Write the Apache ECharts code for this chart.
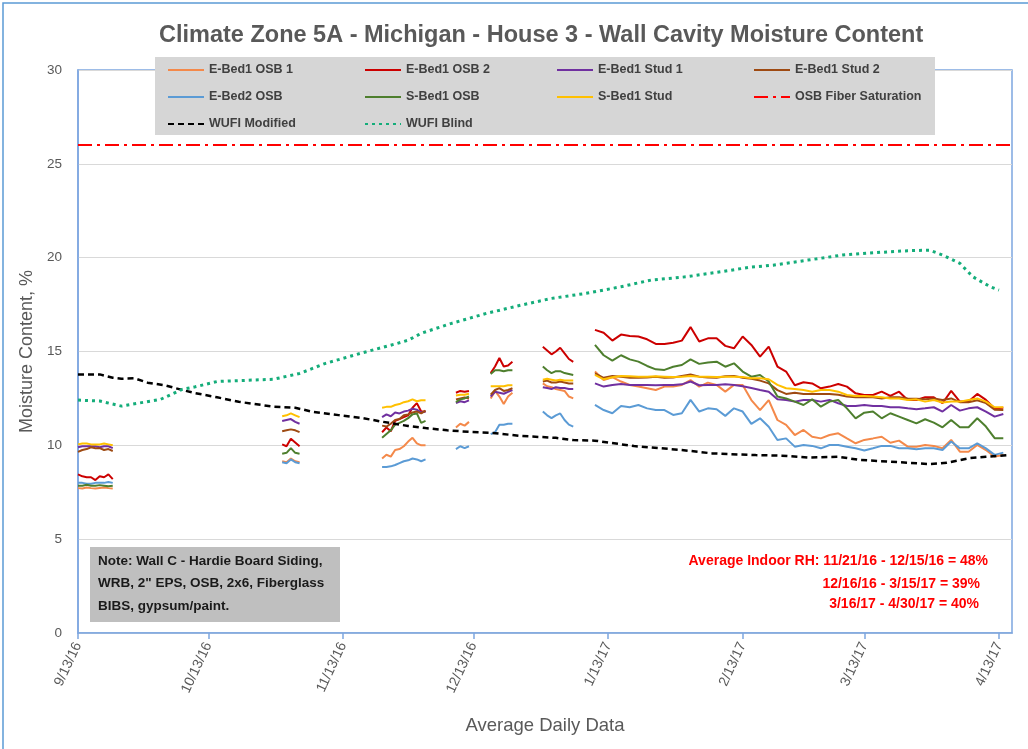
<!DOCTYPE html>
<html>
<head>
<meta charset="utf-8">
<title>Climate Zone 5A - Michigan - House 3 - Wall Cavity Moisture Content</title>
<script src="https://cdn.jsdelivr.net/npm/echarts@6.0.0/dist/echarts.min.js"></script>
<style>
  html, body { margin: 0; padding: 0; background: #fff; }
  #chart { width: 1028px; height: 749px; }
</style>
</head>
<body>
<div id="chart"></div>
<script>
// x = days since 9/13/16
var tickDays = [0, 30, 61, 91, 122, 153, 181, 212];
var tickLabels = ['9/13/16', '10/13/16', '11/13/16', '12/13/16', '1/13/17', '2/13/17', '3/13/17', '4/13/17'];

// sensor data came in blocks: block i starts at segStart[i], one reading every segStep[i] days
var segStart = [0, 47, 70, 87, 95, 107, 119];
var segStep = [1, 1, 1, 1, 1, 1, 2];

var eBed1Osb1 = [
  [7.72, 7.7, 7.75, 7.72, 7.7, 7.73, 7.75, 7.72, 7.7],
  [9.15, 9.1, 9.3, 9.15, 9.1],
  [9.3, 9.5, 9.4, 9.75, 9.8, 9.95, 10.2, 10.4, 10.1, 10.0, 10.0],
  [10.95, 11.15, 11.05, 11.25],
  [12.5, 12.9, 12.6, 12.2, 12.6, 12.8],
  [13.3, 13.15, 13.1, 13.0, 12.95, 12.9, 12.6, 12.5],
  [13.93, 13.48, 13.63, 13.4, 13.22, 13.13, 13.04, 12.95, 13.13, 13.13, 13.22, 13.48, 13.13, 13.34, 13.22, 12.86, 13.22, 13.22, 12.41, 11.88, 12.41, 11.35, 11.09,
   10.55, 10.82, 10.46, 10.37, 10.55, 10.64, 10.37, 10.11, 10.29, 10.37, 10.46, 10.14, 10.25, 9.93, 9.93, 10.02, 9.97, 9.84, 10.29, 9.66, 9.66, 10.02, 9.75, 9.4, 9.49]
];
var eBed1Osb2 = [
  [8.45, 8.35, 8.3, 8.3, 8.15, 8.35, 8.3, 8.45, 8.2],
  [10.05, 9.95, 10.35, 10.15, 9.95],
  [10.7, 10.95, 10.75, 11.3, 11.4, 11.5, 11.6, 12.0, 12.25, 11.8, 11.8],
  [12.8, 12.9, 12.85, 12.9],
  [13.85, 14.2, 14.65, 14.2, 14.25, 14.45],
  [15.25, 15.05, 14.85, 15.0, 15.2, 14.9, 14.6, 14.45],
  [16.15, 16.0, 15.58, 15.9, 15.83, 15.8, 15.65, 15.4, 15.4, 15.47, 15.58, 16.3, 15.53, 15.7, 15.7, 15.3, 15.17, 15.8, 15.35, 14.73, 15.26, 14.2, 13.93,
   13.2, 13.36, 13.3, 13.04, 13.13, 13.27, 13.13, 12.77, 12.68, 12.68, 12.86, 12.63, 12.86, 12.42, 12.42, 12.56, 12.56, 12.24, 12.9, 12.33, 12.33, 12.74, 12.42, 11.97, 12.0]
];
var eBed1Stud1 = [
  [9.9, 9.95, 9.95, 9.95, 9.95, 9.9, 9.95, 9.95, 9.85],
  [11.3, 11.35, 11.4, 11.25, 11.15],
  [11.5, 11.65, 11.55, 11.75, 11.7, 11.8, 11.85, 11.95, 11.9, 11.75, 11.8],
  [12.25, 12.35, 12.3, 12.4],
  [12.6, 12.85, 12.8, 12.75, 12.85, 12.95],
  [13.1, 13.05, 13.0, 13.1, 13.05, 13.05, 13.0, 13.0],
  [13.3, 13.13, 13.22, 13.27, 13.22, 13.22, 13.22, 13.2, 13.22, 13.22, 13.25, 13.4, 13.2, 13.22, 13.22, 13.25, 13.22, 13.15, 13.05, 12.95, 12.86, 12.45, 12.42,
   12.33, 12.42, 12.42, 12.33, 12.42, 12.24, 12.1, 12.1, 12.15, 12.1, 12.1, 12.03, 12.03, 11.97, 11.92, 11.97, 12.03, 11.8, 12.15, 11.85, 11.97, 12.03, 11.8, 11.53, 11.67]
];
var eBed1Stud2 = [
  [9.65, 9.75, 9.8, 9.9, 9.85, 9.85, 9.75, 9.8, 9.7],
  [10.75, 10.8, 10.85, 10.8, 10.7],
  [11.05, 11.0, 11.15, 11.35, 11.4, 11.6, 11.65, 11.75, 11.8, 11.7, 11.85],
  [12.45, 12.5, 12.55, 12.5],
  [12.7, 12.95, 13.05, 12.9, 12.95, 13.05],
  [13.4, 13.45, 13.35, 13.35, 13.4, 13.35, 13.3, 13.3],
  [13.84, 13.6, 13.7, 13.65, 13.6, 13.6, 13.62, 13.66, 13.6, 13.62, 13.7, 13.78, 13.66, 13.62, 13.6, 13.68, 13.7, 13.6, 13.55, 13.45, 13.3, 12.94, 12.74,
   12.8, 12.74, 12.74, 12.74, 12.74, 12.7, 12.6, 12.56, 12.56, 12.56, 12.5, 12.56, 12.56, 12.5, 12.48, 12.45, 12.5, 12.42, 12.5, 12.3, 12.3, 12.4, 12.25, 11.9, 11.88]
];
var eBed2Osb = [
  [8.0, 8.0, 7.95, 7.95, 8.0, 8.0, 8.0, 8.05, 8.0],
  [9.1, 9.05, 9.25, 9.1, 9.05],
  [8.85, 8.85, 8.88, 8.95, 9.05, 9.15, 9.2, 9.3, 9.25, 9.15, 9.25],
  [9.8, 9.95, 9.85, 9.95],
  [10.6, 10.7, 11.1, 11.1, 11.15, 11.15],
  [11.8, 11.6, 11.45, 11.6, 11.7, 11.35, 11.1, 11.0],
  [12.15, 11.88, 11.71, 12.1, 12.03, 12.15, 11.97, 11.88, 11.88, 11.62, 11.71, 12.42, 11.8, 11.97, 11.92, 11.57, 11.97, 11.8, 11.14, 11.44, 10.99, 10.28, 10.37,
   9.93, 10.02, 9.97, 9.84, 10.02, 10.02, 9.93, 9.84, 9.72, 9.84, 9.97, 9.97, 9.84, 9.84, 9.79, 9.84, 9.84, 9.75, 10.2, 9.84, 9.84, 10.11, 9.84, 9.49, 9.61]
];
var sBed1Osb = [
  [7.85, 7.85, 7.9, 7.85, 7.85, 7.88, 7.85, 7.82, 7.85],
  [9.55, 9.6, 9.85, 9.6, 9.55],
  [10.4, 10.6, 10.8, 11.1, 11.2, 11.3, 11.45, 11.65, 11.7, 11.2, 11.3],
  [12.3, 12.45, 12.5, 12.6],
  [13.8, 14.0, 14.0, 13.95, 14.0, 14.0],
  [14.2, 14.0, 13.85, 13.95, 13.95, 13.85, 13.8, 13.75],
  [15.35, 14.8, 14.51, 14.8, 14.58, 14.46, 14.23, 14.05, 14.02, 14.19, 14.28, 14.58, 14.34, 14.41, 14.46, 14.19, 14.37, 13.93, 13.66, 13.75, 13.4, 12.6, 12.5,
   12.33, 12.15, 12.45, 12.06, 12.33, 12.42, 11.97, 11.44, 11.74, 11.8, 11.44, 11.71, 11.53, 11.35, 11.17, 11.39, 11.21, 10.96, 11.35, 10.96, 10.96, 11.44, 11.0, 10.38, 10.38]
];
var sBed1Stud = [
  [10.05, 10.1, 10.1, 10.05, 10.05, 10.05, 10.1, 10.05, 10.0],
  [11.55, 11.6, 11.7, 11.6, 11.5],
  [12.0, 12.05, 12.05, 12.15, 12.2, 12.3, 12.35, 12.45, 12.35, 12.4, 12.4],
  [12.65, 12.7, 12.7, 12.75],
  [13.15, 13.15, 13.15, 13.15, 13.2, 13.2],
  [13.5, 13.55, 13.5, 13.45, 13.5, 13.45, 13.45, 13.45],
  [13.75, 13.52, 13.63, 13.7, 13.68, 13.66, 13.66, 13.68, 13.66, 13.64, 13.66, 13.7, 13.66, 13.66, 13.64, 13.66, 13.66, 13.64, 13.57, 13.57, 13.52, 13.22, 13.04,
   13.0, 12.95, 12.86, 12.95, 12.95, 12.86, 12.68, 12.63, 12.63, 12.6, 12.56, 12.5, 12.5, 12.42, 12.45, 12.33, 12.42, 12.28, 12.33, 12.33, 12.42, 12.5, 12.33, 12.03, 12.03]
];

var fiberSat = 26;
var fiberDays = [0, 215];

var wufiModDays = [0, 5, 8, 10, 13, 16, 20, 24, 27, 32, 37, 45, 50, 54, 60, 65, 70, 76, 80, 85, 90, 95, 102, 110, 114, 119, 128, 139, 146, 156, 162, 168, 175, 180, 187, 196, 200, 205, 209, 214];
var wufiModVals = [13.78, 13.78, 13.6, 13.55, 13.57, 13.34, 13.2, 12.95, 12.78, 12.56, 12.32, 12.06, 12.0, 11.79, 11.61, 11.47, 11.26, 11.03, 10.92, 10.8, 10.72, 10.67, 10.5, 10.4, 10.28, 10.25, 9.96, 9.75, 9.57, 9.48, 9.45, 9.35, 9.39, 9.22, 9.13, 9.0, 9.07, 9.31, 9.39, 9.48];

var wufiBlindDays = [0, 5, 10, 14, 19, 24, 27, 32, 36, 45, 51, 57, 65, 73, 76, 79, 86, 94, 102, 109, 117, 125, 132, 140, 148, 155, 160, 168, 176, 183, 191, 196, 199, 203, 206, 210, 212];
var wufiBlindVals = [12.41, 12.36, 12.09, 12.25, 12.45, 12.98, 13.12, 13.4, 13.44, 13.52, 13.83, 14.37, 14.9, 15.4, 15.6, 15.97, 16.5, 17.03, 17.47, 17.83, 18.1, 18.45, 18.81, 18.98, 19.25, 19.5, 19.6, 19.87, 20.14, 20.26, 20.37, 20.4, 20.14, 19.7, 18.98, 18.45, 18.27];

function segData(segs) {
  var out = [];
  for (var i = 0; i < segs.length; i++) {
    var day = segStart[i];
    for (var j = 0; j < segs[i].length; j++) {
      day = segStart[i] + j * segStep[i];
      out.push([day, segs[i][j]]);
    }
    out.push([day + 0.5, '-']); // break between blocks
  }
  return out;
}
function pairs(xs, ys) {
  var out = [];
  for (var i = 0; i < xs.length; i++) out.push([xs[i], ys[i]]);
  return out;
}

var FONT = 'Liberation Sans, Arial, sans-serif';

function sensor(name, color, segs) {
  return {
    name: name, type: 'line', data: segData(segs),
    symbol: 'none', showSymbol: false,
    lineStyle: { color: color, width: 2 },
    itemStyle: { color: color }
  };
}

var chart = echarts.init(document.getElementById('chart'));
var option = {
  animation: false,
  backgroundColor: '#fff',
  textStyle: { fontFamily: FONT },
  title: {
    text: 'Climate Zone 5A - Michigan - House 3 - Wall Cavity Moisture Content',
    left: 154, top: 19,
    textStyle: { fontSize: 23.5, fontWeight: 'bold', color: '#595959', fontFamily: FONT }
  },
  grid: {
    left: 78, right: 16, top: 70, bottom: 116,
    show: true, borderColor: '#7ea6e0', borderWidth: 1.5, backgroundColor: 'transparent'
  },
  legend: [
    { data: ['E-Bed1 OSB 1', 'E-Bed2 OSB', 'WUFI Modified'], left: 167 },
    { data: ['E-Bed1 OSB 2', 'S-Bed1 OSB', 'WUFI Blind'], left: 364 },
    { data: ['E-Bed1 Stud 1', 'S-Bed1 Stud'], left: 556 },
    { data: ['E-Bed1 Stud 2', 'OSB Fiber Saturation'], left: 753 }
  ].map(function (l) {
    l.top = 63; l.orient = 'vertical'; l.padding = 0;
    l.itemWidth = 36; l.itemHeight = 14; l.itemGap = 13;
    l.itemStyle = { opacity: 0 };
    l.textStyle = { fontSize: 12.5, fontWeight: 'bold', color: '#404040', fontFamily: FONT, lineHeight: 14 };
    l.z = 10;
    return l;
  }),
  xAxis: {
    type: 'value', min: 0, max: 215,
    name: 'Average Daily Data', nameLocation: 'middle', nameGap: 83,
    nameTextStyle: { fontSize: 18.5, color: '#595959', fontFamily: FONT },
    axisLine: { show: true, lineStyle: { color: '#7ea6e0', width: 1.5 } },
    axisTick: { show: true, customValues: tickDays, length: 6, lineStyle: { color: '#7ea6e0', width: 1.5 } },
    axisLabel: {
      customValues: tickDays, rotate: 65, margin: 10,
      fontSize: 14, color: '#595959', fontFamily: FONT,
      formatter: function (v) { var k = tickDays.indexOf(Math.round(v)); return k >= 0 ? tickLabels[k] : ''; }
    },
    splitLine: { show: false }
  },
  yAxis: {
    type: 'value', min: 0, max: 30, interval: 5,
    name: 'Moisture Content, %', nameLocation: 'middle', nameGap: 42,
    nameTextStyle: { fontSize: 18, color: '#595959', fontFamily: FONT },
    axisLine: { show: true, lineStyle: { color: '#7ea6e0', width: 1.5 } },
    axisTick: { show: false },
    axisLabel: { fontSize: 13.5, color: '#595959', margin: 16, fontFamily: FONT },
    splitLine: { show: true, lineStyle: { color: '#d9d9d9', width: 1 } }
  },
  graphic: [
    { type: 'rect', z: -10, silent: true, shape: { x: 3, y: 3, width: 1040, height: 800 },
      style: { fill: 'none', stroke: '#5b9bd5', lineWidth: 1.5 } },
    { type: 'rect', z: 3, silent: true, shape: { x: 155, y: 57, width: 780, height: 78 },
      style: { fill: '#d6d6d6' } },
    { type: 'rect', z: 3, silent: true, shape: { x: 90, y: 547, width: 250, height: 75 },
      style: { fill: '#bfbfbf' } },
    { type: 'text', z: 4, silent: true, left: 98, top: 550,
      style: { text: 'Note: Wall C - Hardie Board Siding,\nWRB, 2" EPS, OSB, 2x6, Fiberglass\nBIBS, gypsum/paint.',
        font: 'bold 13.5px ' + FONT, fill: '#1a1a1a', lineHeight: 22.5 } },
    { type: 'text', z: 4, silent: true, right: 40, top: 554,
      style: { text: 'Average Indoor RH: 11/21/16 - 12/15/16 = 48%', font: 'bold 14px ' + FONT, fill: '#ff0000' } },
    { type: 'text', z: 4, silent: true, right: 48, top: 577,
      style: { text: '12/16/16 - 3/15/17 = 39%', font: 'bold 14px ' + FONT, fill: '#ff0000' } },
    { type: 'text', z: 4, silent: true, right: 49, top: 597,
      style: { text: '3/16/17 - 4/30/17 = 40%', font: 'bold 14px ' + FONT, fill: '#ff0000' } }
  ],
  series: [
    sensor('E-Bed1 OSB 1', '#f4894a', eBed1Osb1),
    sensor('E-Bed1 OSB 2', '#cc0000', eBed1Osb2),
    sensor('E-Bed1 Stud 1', '#7030a0', eBed1Stud1),
    sensor('E-Bed1 Stud 2', '#9e4a12', eBed1Stud2),
    sensor('E-Bed2 OSB', '#5b9bd5', eBed2Osb),
    sensor('S-Bed1 OSB', '#4e7f2e', sBed1Osb),
    sensor('S-Bed1 Stud', '#ffc000', sBed1Stud),
    {
      name: 'OSB Fiber Saturation', type: 'line', symbol: 'none',
      data: pairs(fiberDays, [fiberSat, fiberSat]),
      lineStyle: { color: '#ff0000', width: 2, type: [14, 5, 3, 5] },
      itemStyle: { color: '#ff0000' }
    },
    {
      name: 'WUFI Modified', type: 'line', symbol: 'none',
      data: pairs(wufiModDays, wufiModVals),
      lineStyle: { color: '#000', width: 2.5, type: [6, 4] },
      itemStyle: { color: '#000' }
    },
    {
      name: 'WUFI Blind', type: 'line', symbol: 'none',
      data: pairs(wufiBlindDays, wufiBlindVals),
      lineStyle: { color: '#14ad7a', width: 3, type: [3, 4] },
      itemStyle: { color: '#14ad7a' }
    }
  ]
};
chart.setOption(option);
</script>
</body>
</html>
